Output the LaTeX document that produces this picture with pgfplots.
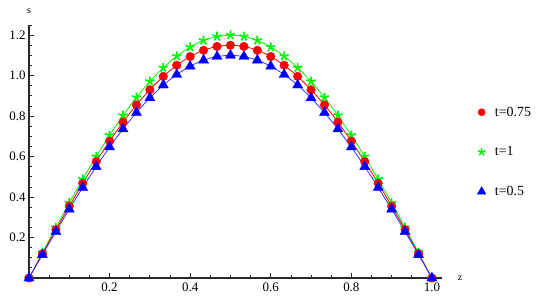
\documentclass[border=0pt]{standalone}
\usepackage{pgfplots}
\usepackage{pgfplotstable}
\pgfplotsset{compat=1.18}
\usepackage{fontspec}
\setmainfont{Liberation Serif}

\definecolor{mred}{RGB}{255,0,0}
\definecolor{mgreen}{RGB}{0,245,0}
\definecolor{mblue}{RGB}{0,0,255}
\definecolor{mline}{RGB}{40,40,40}

% z, t=1 (green), t=0.75 (red), t=0.5 (blue)
\pgfplotstableread{
z      g     r     b
0.0000 0.000 0.000 0.000
0.0333 0.125 0.120 0.115
0.0667 0.249 0.239 0.229
0.1000 0.371 0.355 0.340
0.1333 0.488 0.468 0.447
0.1667 0.600 0.575 0.550
0.2000 0.705 0.676 0.647
0.2333 0.803 0.770 0.736
0.2667 0.892 0.855 0.817
0.3000 0.971 0.930 0.890
0.3333 1.039 0.996 0.953
0.3667 1.096 1.051 1.005
0.4000 1.141 1.094 1.046
0.4333 1.174 1.125 1.076
0.4667 1.193 1.144 1.094
0.5000 1.200 1.150 1.100
0.5333 1.193 1.144 1.094
0.5667 1.174 1.125 1.076
0.6000 1.141 1.094 1.046
0.6333 1.096 1.051 1.005
0.6667 1.039 0.996 0.953
0.7000 0.971 0.930 0.890
0.7333 0.892 0.855 0.817
0.7667 0.803 0.770 0.736
0.8000 0.705 0.676 0.647
0.8333 0.600 0.575 0.550
0.8667 0.488 0.468 0.447
0.9000 0.371 0.355 0.340
0.9333 0.249 0.239 0.229
0.9667 0.125 0.120 0.115
1.0000 0.000 0.000 0.000
}\data

\begin{document}
\begin{tikzpicture}
\useasboundingbox (0,0) rectangle (550bp,300bp);
\begin{axis}[
    at={(29bp,22bp)}, anchor=origin,
    scale only axis,
    width=413bp, height=253bp,
    xmin=0, xmax=1.025,
    ymin=0, ymax=1.25,
    axis lines=middle,
    axis line style={-, mline, line width=1.1pt},
    clip=false,
    /pgf/number format/assume math mode=true,
    xtick={0.2,0.4,0.6,0.8,1.0},
    xticklabels={0.2,0.4,0.6,0.8,1.0},
    ytick={0.2,0.4,0.6,0.8,1.0,1.2},
    yticklabels={0.2,0.4,0.6,0.8,1.0,1.2},
    minor xtick={0.05,0.1,...,1.0},
    minor ytick={0.05,0.1,...,1.25},
    tick align=inside,
    major tick length=5bp,
    minor tick length=3bp,
    tick style={mline, line width=0.8pt},
    tick label style={font=\fontsize{13}{13}\selectfont},
    xticklabel style={yshift=-1bp},
    xlabel={z}, ylabel={s},
    xlabel style={at={(axis cs:1.07,0)}, anchor=center, font=\fontsize{10}{10}\selectfont},
    ylabel style={at={(axis cs:0,1.32)}, anchor=center, rotate=0, font=\fontsize{10}{10}\selectfont},
    legend cell align=left,
    legend style={draw=none, fill=none, at={(1.085,0.685)}, anchor=north west,
        font=\fontsize{14}{14}\selectfont, row sep=25bp, column sep=7bp, inner sep=0pt},
]
\addplot[mgreen, line width=0.8pt, smooth, forget plot] table[x=z, y=g] {\data};
\addplot[mred, line width=0.8pt, smooth, forget plot] table[x=z, y=r] {\data};
\addplot[mblue!80!white, line width=0.8pt, smooth, forget plot] table[x=z, y=b] {\data};
\addplot[only marks, mark=star, mark size=4.8bp, mgreen, mark options={line width=1.7pt}, forget plot] table[x=z, y=g] {\data};
\addplot[only marks, mark=*, mark size=4.3bp, mred, forget plot] table[x=z, y=r] {\data};
\addplot[only marks, mark=triangle*, mark size=5.8bp, mblue, forget plot] table[x=z, y=b] {\data};
\addlegendimage{only marks, mark=*, mark size=3.6bp, mred}
\addlegendentry{t=0.75}
\addlegendimage{only marks, mark=star, mark size=4bp, mgreen, mark options={line width=1.4pt}}
\addlegendentry{t=1}
\addlegendimage{only marks, mark=triangle*, mark size=5bp, mblue}
\addlegendentry{t=0.5}
\end{axis}
\end{tikzpicture}
\end{document}
